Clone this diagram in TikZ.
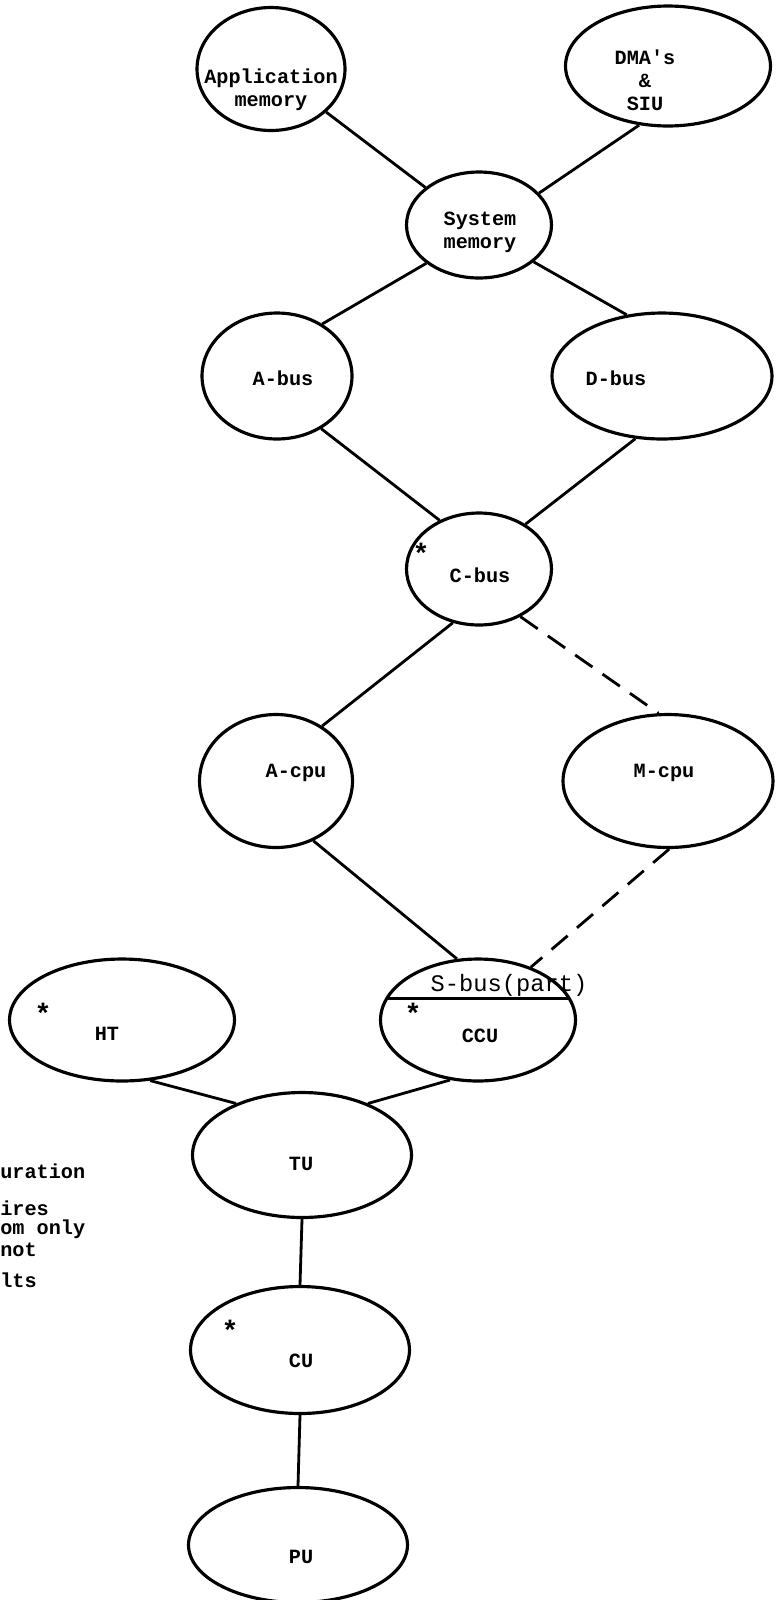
\documentclass[tikz,border=0pt]{standalone}
\usepackage{fontspec}
\setmonofont{Liberation Mono}
\usetikzlibrary{shapes.geometric}

\begin{document}
\begin{tikzpicture}[x=0.02cm, y=-0.02cm,
	unit/.style={ellipse, draw, line width=1.8pt, inner sep=0pt, minimum width=#1},
	unit/.default=4.38cm,
	unittext/.style={inner sep=0pt, align=center, font=\ttfamily\bfseries\fontsize{11.5}{13}\selectfont},
	link/.style={line width=1.6pt},
	optlink/.style={line width=1.6pt, dash pattern=on 12pt off 7pt},
	star/.style={inner sep=0pt, font=\ttfamily\bfseries\fontsize{16}{16}\selectfont},
	note/.style={anchor=west, inner sep=0pt, font=\ttfamily\bfseries\fontsize{11.5}{12}\selectfont}]
	\useasboundingbox (0,0) rectangle (776,1600);

	\node[unit=2.96cm, minimum height=2.46cm] (appmem) at (271,69) {};
	\node[unit=4.1cm, minimum height=2.4cm] (dma) at (668,66) {};
	\node[unit=2.9cm, minimum height=2.12cm] (sysmem) at (479,225) {};
	\node[unit=3.0cm, minimum height=2.52cm] (abus) at (277,376) {};
	\node[unit=4.4cm, minimum height=2.52cm] (dbus) at (662,376) {};
	\node[unit=2.9cm, minimum height=2.24cm] (cbus) at (479,569) {};
	\node[unit=3.06cm, minimum height=2.66cm] (acpu) at (276,781) {};
	\node[unit=4.2cm, minimum height=2.66cm] (mcpu) at (668,781) {};
	\node[unit=4.5cm, minimum height=2.44cm] (ht) at (122,1020) {};
	\node[unit=3.9cm, minimum height=2.44cm] (ccu) at (478,1020) {};
	\node[unit, minimum height=2.5cm] (tu) at (302,1155) {};
	\node[unit, minimum height=2.54cm] (cu) at (300,1350) {};
	\node[unit, minimum height=2.3cm] (pu) at (298,1545) {};

	\node[unittext] (tappmem) at (271,90) {Application\\memory};
	\node[unittext] (tdma) at (645,80) {DMA's\\\&\\SIU};
	\node[unittext] (tsysmem) at (480,232) {System\\memory};
	\node[unittext] (tabus) at (283,378) {A-bus};
	\node[unittext] (tdbus) at (616,378) {D-bus};
	\node[unittext] (tcbus) at (480,575) {C-bus};
	\node[unittext] (tacpu) at (296,773) {A-cpu};
	\node[unittext] (tmcpu) at (664,773) {M-cpu};
	\node[unittext] (tht) at (107,1034) {HT};
	\node[unittext] (tccu) at (480,1036) {CCU};
	\node[unittext] (ttu) at (301,1164) {TU};
	\node[unittext] (tcu) at (301,1361) {CU};
	\node[unittext] (tpu) at (301,1557) {PU};

	\node[inner sep=1pt, font=\ttfamily\fontsize{13.5}{14}\selectfont] (sbus) at (509,985) {S-bus(part)};
	\begin{scope}
		\clip (ccu.center) ellipse [x radius=1.95cm, y radius=1.22cm];
		\draw[link] (ccu.west |- sbus.south) -- (ccu.east |- sbus.south);
	\end{scope}

	\node[star] (cbusstar) at (421,553) {*};
	\node[star] (htstar) at (43,1013) {*};
	\node[star] (ccustar) at (413,1013) {*};
	\node[star] (custar) at (230,1330) {*};

	\draw[link] (appmem.-38) -- (sysmem.145);
	\draw[link] (dma.244) -- (sysmem.28);
	\draw[link] (sysmem.216) -- (abus.49);
	\draw[link] (sysmem.326) -- (dbus.120);
	\draw[link] (abus.-50) -- (cbus.129);
	\draw[link] (dbus.247) -- (cbus.44);
	\draw[link] (cbus.244) -- (acpu.50);
	\draw[optlink] (cbus.-49) -- (mcpu.98);
	\draw[link] (acpu.-58) -- (ccu.109);
	\draw[optlink] (mcpu.-89) -- (ccu.45);
	\draw[link] (ht.-65) -- (tu.142);
	\draw[link] (ccu.245) -- (tu.38);
	\draw[link] (tu.south) -- (cu.north);
	\draw[link] (cu.south) -- (pu.north);

	\node[note] (conf) at (0,1171) {uration};
	\node[note] (req) at (0,1208) {ires};
	\node[note] (only) at (0,1229) {om only};
	\node[note] (neg) at (0,1250) {not};
	\node[note] (res) at (0,1280) {lts};
\end{tikzpicture}
\end{document}
